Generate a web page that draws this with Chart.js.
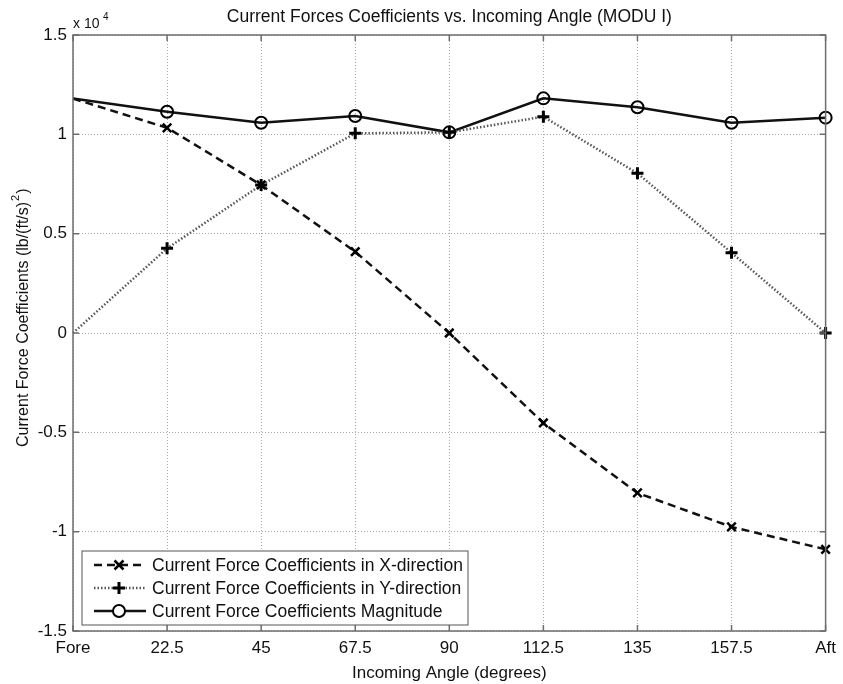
<!DOCTYPE html>
<html>
<head>
<meta charset="utf-8">
<script src="https://cdn.jsdelivr.net/npm/chart.js@4.4.0/dist/chart.umd.min.js"></script>
<style>
  html, body { margin: 0; padding: 0; background: #fff; }
  #wrap { width: 843px; height: 684px; }
</style>
</head>
<body>
<div id="wrap"><canvas id="forceChart" width="843" height="684"></canvas></div>
<script>
// incoming angles on the x axis
const angles = ['Fore', '22.5', '45', '67.5', '90', '112.5', '135', '157.5', 'Aft'];
// force coefficients, lb/(ft/s)^2
const coefX = [11800, 10330, 7450, 4090, 0, -4530, -8050, -9760, -10890];
const coefY = [0, 4260, 7450, 10050, 10100, 10890, 8040, 4040, 0];
const coefMag = [11800, 11140, 10580, 10920, 10100, 11810, 11360, 10580, 10840];
const yTicks = [-15000, -10000, -5000, 0, 5000, 10000, 15000];

const FONT = 'Liberation Sans, Arial, sans-serif';
const noMarkerAtFore = angles.map(function (a, i) { return i === 0 ? 0 : 6; });

// title, y label, x10^4 note, axes box with inward ticks and the legend
const matlabDecor = {
    id: 'matlabDecor',
    afterDatasetsDraw(chart) {
        const c = chart.ctx;
        const a = chart.chartArea;
        const xs = chart.scales.x;
        const ys = chart.scales.y;
        c.save();

        // box
        c.strokeStyle = '#6d6d6d';
        c.lineWidth = 1.5;
        c.strokeRect(a.left, a.top, a.right - a.left, a.bottom - a.top);

        // inward ticks
        c.beginPath();
        yTicks.forEach(function (v) {
            const y = ys.getPixelForValue(v);
            c.moveTo(a.left, y); c.lineTo(a.left + 6, y);
            c.moveTo(a.right, y); c.lineTo(a.right - 6, y);
        });
        angles.forEach(function (lab, i) {
            const x = xs.getPixelForValue(i);
            c.moveTo(x, a.bottom); c.lineTo(x, a.bottom - 6);
            c.moveTo(x, a.top); c.lineTo(x, a.top + 6);
        });
        c.stroke();

        // title
        c.fillStyle = '#111';
        c.font = '17.5px ' + FONT;
        c.textAlign = 'center';
        c.textBaseline = 'middle';
        c.fillText('Current Forces Coefficients vs. Incoming Angle (MODU I)', (a.left + a.right) / 2, 17);

        // y label, with the squared unit as a raised 2
        c.save();
        c.translate(24, 447);
        c.rotate(-Math.PI / 2);
        c.textAlign = 'left';
        c.font = '16px ' + FONT;
        const main = 'Current Force Coefficients (lb/(ft/s)';
        c.fillText(main, 0, 0);
        let w = c.measureText(main).width;
        c.font = '11px ' + FONT;
        c.fillText('2', w + 1, -8);
        w += c.measureText('2').width + 2;
        c.font = '16px ' + FONT;
        c.fillText(')', w, 0);
        c.restore();

        // exponent note
        c.textAlign = 'left';
        c.font = '14px ' + FONT;
        c.fillText('x 10', 73, 24);
        c.font = '10px ' + FONT;
        c.fillText('4', 103, 17);

        // legend
        const lx = 82, ly = 551, lw = 386, lh = 74;
        c.fillStyle = '#fff';
        c.fillRect(lx, ly, lw, lh);
        c.strokeStyle = '#555';
        c.lineWidth = 1;
        c.strokeRect(lx, ly, lw, lh);
        chart.data.datasets.forEach(function (ds, i) {
            const y = ly + 14 + i * 23;
            c.strokeStyle = ds.borderColor;
            c.lineWidth = ds.borderWidth;
            c.setLineDash(ds.borderDash || []);
            c.beginPath();
            c.moveTo(lx + 12, y);
            c.lineTo(lx + 64, y);
            c.stroke();
            c.setLineDash([]);
            // marker
            c.lineWidth = ds.pointBorderWidth;
            c.strokeStyle = '#000';
            const mx = lx + 37, r = 6;
            c.beginPath();
            if (ds.pointStyle === 'circle') {
                c.fillStyle = '#fff';
                c.arc(mx, y, r, 0, Math.PI * 2);
                c.fill();
            } else if (ds.pointStyle === 'cross') {
                c.moveTo(mx - r, y); c.lineTo(mx + r, y);
                c.moveTo(mx, y - r); c.lineTo(mx, y + r);
            } else {
                const d = r * 0.75;
                c.moveTo(mx - d, y - d); c.lineTo(mx + d, y + d);
                c.moveTo(mx - d, y + d); c.lineTo(mx + d, y - d);
            }
            c.stroke();
            c.fillStyle = '#111';
            c.font = '17.5px ' + FONT;
            c.textAlign = 'left';
            c.fillText(ds.label, lx + 70, y + 1);
        });
        c.restore();
    }
};

const ctx = document.getElementById('forceChart');
const forceChart = new Chart(ctx, {
    type: 'line',
    data: {
        labels: angles,
        datasets: [{
            label: 'Current Force Coefficients in X-direction',
            data: coefX,
            borderColor: '#111',
            borderWidth: 2.5,
            borderDash: [8, 5],
            pointStyle: 'crossRot',
            pointRadius: noMarkerAtFore,
            pointBorderWidth: 2.5,
            pointBorderColor: '#000'
        }, {
            label: 'Current Force Coefficients in Y-direction',
            data: coefY,
            borderColor: '#555',
            borderWidth: 2.5,
            borderDash: [1.5, 2],
            pointStyle: 'cross',
            pointRadius: noMarkerAtFore,
            pointBorderWidth: 3,
            pointBorderColor: '#000'
        }, {
            label: 'Current Force Coefficients Magnitude',
            data: coefMag,
            borderColor: '#111',
            borderWidth: 2.5,
            pointStyle: 'circle',
            pointRadius: noMarkerAtFore,
            pointBorderWidth: 2,
            pointBorderColor: '#000',
            pointBackgroundColor: 'rgba(255,255,255,0)'
        }]
    },
    options: {
        responsive: false,
        animation: false,
        layout: { padding: { top: 35, right: 14, left: 0, bottom: 0 } },
        plugins: {
            legend: { display: false },
            tooltip: { enabled: false }
        },
        elements: { line: { tension: 0 } },
        scales: {
            x: {
                offset: false,
                grid: {
                    color: '#a8a8a8',
                    lineWidth: 1,
                    drawTicks: false
                },
                // dotted grid lines
                border: { display: false, dash: [1, 2] },
                ticks: { color: '#111', font: { family: FONT, size: 17 }, padding: 7, maxRotation: 0, autoSkip: false },
                title: { display: true, text: 'Incoming Angle (degrees)', color: '#111', font: { family: FONT, size: 17 }, padding: { top: 0, bottom: 0 } },
                afterFit: function (scale) { scale.height = 53; }
            },
            y: {
                min: -15000,
                max: 15000,
                afterBuildTicks: function (scale) {
                    scale.ticks = yTicks.map(function (v) { return { value: v }; });
                },
                grid: {
                    color: '#a8a8a8',
                    lineWidth: 1,
                    drawTicks: false
                },
                border: { display: false, dash: [1, 2] },
                ticks: {
                    color: '#111',
                    font: { family: FONT, size: 17 },
                    padding: 6,
                    callback: function (v) { return String(v / 10000); }
                },
                afterFit: function (scale) { scale.width = 73; }
            }
        }
    },
    plugins: [matlabDecor]
});
</script>
</body>
</html>
